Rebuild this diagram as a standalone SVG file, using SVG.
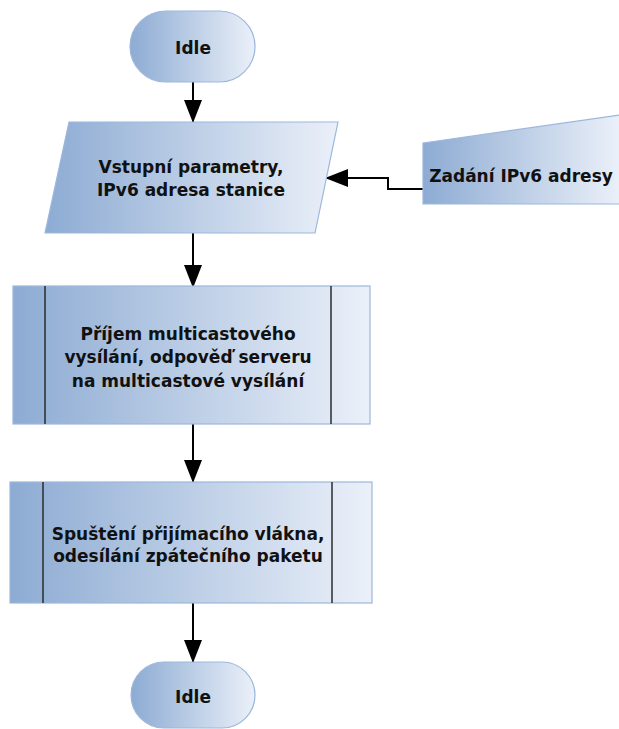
<svg xmlns="http://www.w3.org/2000/svg" width="619" height="729" viewBox="0 0 619 729">
  <defs>
    <linearGradient id="fill" x1="0" y1="0" x2="1" y2="0">
      <stop offset="0" stop-color="#8dabd3"/>
      <stop offset="0.5" stop-color="#bccee6"/>
      <stop offset="1" stop-color="#ebf0f9"/>
    </linearGradient>
    <marker id="arrow" viewBox="0 0 23 18" refX="23" refY="9" markerWidth="23" markerHeight="18" markerUnits="userSpaceOnUse" orient="auto">
      <path d="M0,0 L23,9 L0,18 Z" fill="#000"/>
    </marker>
    <style>
      .shape { fill: url(#fill); stroke: #9cb7dd; stroke-width: 1.2; }
      .bar { stroke: #2b2b2b; stroke-width: 1.5; }
      .label { font-family: "DejaVu Sans", Verdana, sans-serif; font-weight: bold; font-size: 17px; fill: #111; text-anchor: middle; }
      .edge { fill: none; stroke: #000; stroke-width: 2; marker-end: url(#arrow); }
    </style>
  </defs>

  <!-- connectors -->
  <g id="connectors">
    <path class="edge" d="M193,82 L193,123"/>
    <path class="edge" d="M193,233 L193,288"/>
    <path class="edge" d="M193,424 L193,483"/>
    <path class="edge" d="M193,603 L193,663"/>
    <path class="edge" d="M423,189 L388,189 L388,178 L325,178"/>
  </g>

  <!-- start terminator -->
  <g id="idle-start">
    <rect class="shape" x="130" y="11" width="125" height="71" rx="35.5" ry="35.5"/>
    <text class="label" x="193" y="54">Idle</text>
  </g>

  <!-- input data -->
  <g id="input-params">
    <polygon class="shape" points="69,122 338,122 315,233 45,233"/>
    <text class="label" x="191" y="173">Vstupní parametry,</text>
    <text class="label" x="191" y="196">IPv6 adresa stanice</text>
  </g>

  <!-- manual input -->
  <g id="manual-input">
    <polygon class="shape" points="423,143 620,115 620,204 423,204"/>
    <text class="label" x="521" y="182">Zadání IPv6 adresy</text>
  </g>

  <!-- predefined process 1 -->
  <g id="process-receive">
    <rect class="shape" x="13" y="286" width="357" height="138"/>
    <line class="bar" x1="45" y1="286" x2="45" y2="424"/>
    <line class="bar" x1="331" y1="286" x2="331" y2="424"/>
    <text class="label" x="188" y="340">Příjem multicastového</text>
    <text class="label" x="188" y="363">vysílání, odpověď serveru</text>
    <text class="label" x="188" y="387">na multicastové vysílání</text>
  </g>

  <!-- predefined process 2 -->
  <g id="process-send">
    <rect class="shape" x="10" y="482" width="362" height="121"/>
    <line class="bar" x1="43" y1="482" x2="43" y2="603"/>
    <line class="bar" x1="332" y1="482" x2="332" y2="603"/>
    <text class="label" x="188" y="540">Spuštění přijímacího vlákna,</text>
    <text class="label" x="188" y="562">odesílání zpátečního paketu</text>
  </g>

  <!-- end terminator -->
  <g id="idle-end">
    <rect class="shape" x="131" y="662" width="124" height="66" rx="33" ry="33"/>
    <text class="label" x="193" y="703">Idle</text>
  </g>
</svg>
